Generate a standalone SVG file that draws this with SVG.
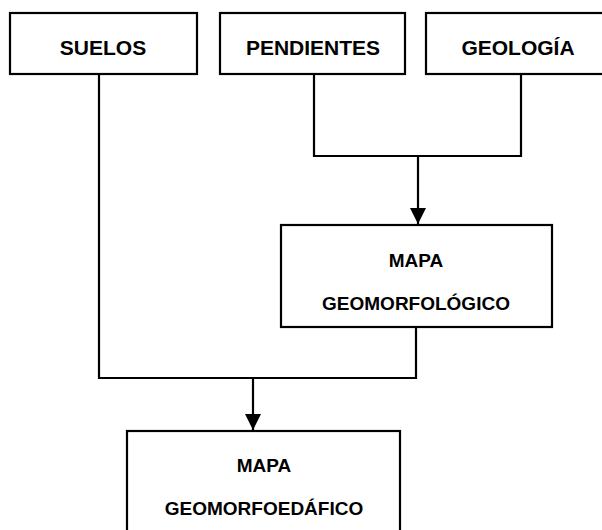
<svg xmlns="http://www.w3.org/2000/svg" width="602" height="530" viewBox="0 0 602 530">
<style>
.box{fill:#fff;stroke:#000;stroke-width:2.2}
.t{font-family:"Liberation Sans",Arial,sans-serif;font-weight:bold;fill:#000;text-anchor:middle}
.t1{font-size:21px}
.t2{font-size:19px}
.ln{fill:none;stroke:#000;stroke-width:2.2}
</style>
<defs>
<marker id="ah" viewBox="0 0 16 16" refX="16" refY="8" markerWidth="16" markerHeight="16" markerUnits="userSpaceOnUse" orient="auto">
<path d="M0,0 L16,8 L0,16 Z" fill="#000"/>
</marker>
</defs>
<rect width="602" height="530" fill="#fff"/>
<g id="connectors">
<path class="ln" d="M99,74 V378 H416 V327"/>
<path class="ln" d="M314,74 V156 H521 V74"/>
<path class="ln" d="M418,156 V224" marker-end="url(#ah)"/>
<path class="ln" d="M253,378 V430" marker-end="url(#ah)"/>
</g>
<g id="suelos">
<rect class="box" x="10" y="13" width="187" height="61"/>
<text class="t t1" x="103" y="55">SUELOS</text>
</g>
<g id="pendientes">
<rect class="box" x="220" y="13" width="185" height="61"/>
<text class="t t1" x="313" y="55">PENDIENTES</text>
</g>
<g id="geologia">
<rect class="box" x="426" y="13" width="190" height="61"/>
<text class="t t1" x="518" y="55">GEOLOGÍA</text>
</g>
<g id="mapa-geomorfologico">
<rect class="box" x="281" y="225" width="271" height="102"/>
<text class="t t2" x="416" y="267">MAPA</text>
<text class="t t2" x="416" y="310">GEOMORFOLÓGICO</text>
</g>
<g id="mapa-geomorfoedafico">
<rect class="box" x="127" y="431" width="273" height="110"/>
<text class="t t2" x="264" y="472">MAPA</text>
<text class="t t2" x="264" y="515">GEOMORFOEDÁFICO</text>
</g>
</svg>
